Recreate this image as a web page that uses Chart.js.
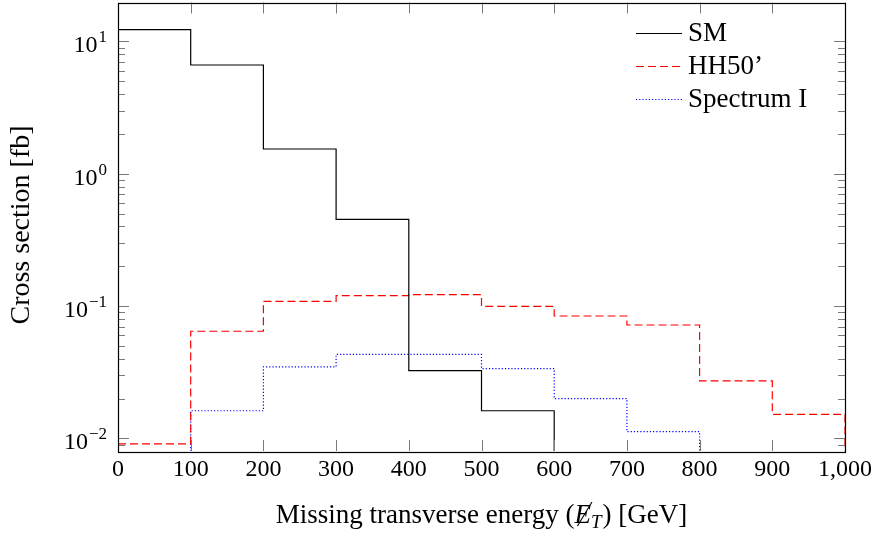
<!DOCTYPE html>
<html>
<head>
<meta charset="utf-8">
<script src="https://cdn.jsdelivr.net/npm/chart.js@4.4.1/dist/chart.umd.min.js"></script>
<style>
html,body{margin:0;padding:0;background:#fff;}
#wrap{width:878px;height:536px;}
</style>
</head>
<body>
<div id="wrap"><canvas id="c" width="878" height="536"></canvas></div>
<script>
// ---- data ----
const binEdges = [0, 100, 200, 300, 400, 500, 600, 700, 800, 900, 1000];
const seriesNames = ["SM", "HH50\u2019", "Spectrum I"];
const smValues   = [12.3, 6.64, 1.54, 0.453, 0.0325, 0.0162, null, null, null, null];
const hhValues   = [0.0091, 0.0646, 0.1087, 0.120, 0.122, 0.0997, 0.0842, 0.072, 0.0272, 0.0152];
const specValues = [null, 0.0162, 0.0348, 0.0432, 0.0432, 0.0337, 0.020, 0.01125, null, null];
const xTickValues = [0, 100, 200, 300, 400, 500, 600, 700, 800, 900, 1000];
const xTickLabels = ["0", "100", "200", "300", "400", "500", "600", "700", "800", "900", "1,000"];
const yTickValues = [0.01, 0.1, 1, 10];
const yTickExponents = ["\u22122", "\u22121", "0", "1"];
const yMin = 0.00804, yMax = 19.7;
const FLOOR = 1e-5;

function histPoints(vals) {
  const pts = [];
  let prev = null;
  vals.forEach((v, i) => {
    if (v == null) {
      if (prev != null) {
        pts.push({x: binEdges[i], y: prev});
        pts.push({x: binEdges[i], y: FLOOR});
      }
      prev = null;
      return;
    }
    if (prev == null && i > 0) pts.push({x: binEdges[i], y: FLOOR});
    pts.push({x: binEdges[i], y: v});
    prev = v;
  });
  if (prev != null) {
    const e = binEdges[vals.length];
    pts.push({x: e, y: prev});
    pts.push({x: e, y: FLOOR});
  }
  return pts;
}

const SERIF = '"Liberation Serif", "Times New Roman", serif';

const decor = {
  id: 'decor',
  afterDatasetsDraw(chart) {
    const ctx = chart.ctx;
    const ca = chart.chartArea;
    const xs = chart.scales.x, ys = chart.scales.y;
    ctx.save();
    // ticks
    ctx.strokeStyle = '#7a7a7a';
    ctx.lineWidth = 1;
    ctx.beginPath();
    xTickValues.forEach(v => {
      const px = Math.round(xs.getPixelForValue(v)) + 0.5;
      ctx.moveTo(px, ca.bottom); ctx.lineTo(px, ca.bottom - 11);
      ctx.moveTo(px, ca.top); ctx.lineTo(px, ca.top + 11);
    });
    ys.ticks.forEach(t => {
      const py = Math.round(ys.getPixelForValue(t.value)) + 0.5;
      ctx.moveTo(ca.left, py); ctx.lineTo(ca.left + 11, py);
      ctx.moveTo(ca.right, py); ctx.lineTo(ca.right - 11, py);
    });
    for (let e = -3; e <= 1; e++) {
      for (let m = 2; m <= 9; m++) {
        const v = m * Math.pow(10, e);
        if (v < yMin || v > yMax) continue;
        const py = Math.round(ys.getPixelForValue(v)) + 0.5;
        ctx.moveTo(ca.left, py); ctx.lineTo(ca.left + 7, py);
        ctx.moveTo(ca.right, py); ctx.lineTo(ca.right - 7, py);
      }
    }
    ctx.stroke();
    // frame
    ctx.strokeStyle = '#000';
    ctx.lineWidth = 1.2;
    ctx.strokeRect(Math.round(ca.left) + 0.5, Math.round(ca.top) + 0.5,
                   Math.round(ca.right - ca.left), Math.round(ca.bottom - ca.top));
    // x tick labels
    ctx.fillStyle = '#000';
    ctx.font = '24px ' + SERIF;
    ctx.textAlign = 'center';
    ctx.textBaseline = 'alphabetic';
    xTickValues.forEach((v, i) => {
      ctx.fillText(xTickLabels[i], xs.getPixelForValue(v), 476);
    });
    // y tick labels with superscripts
    ys.ticks.forEach(t => {
      const idx = yTickValues.indexOf(t.value);
      if (idx < 0) return;
      const py = ys.getPixelForValue(t.value);
      const right = 107;
      ctx.font = '17px ' + SERIF;
      ctx.textAlign = 'right';
      const exp = yTickExponents[idx];
      const ew = ctx.measureText(exp).width;
      ctx.fillText(exp, right, py + 1);
      ctx.font = '24px ' + SERIF;
      ctx.fillText('10', right - ew - 1, py + 11);
    });
    // x title
    ctx.textAlign = 'left';
    const p1 = 'Missing transverse energy (';
    const p3 = ') [GeV]';
    ctx.font = '27px ' + SERIF;
    const w1 = ctx.measureText(p1).width;
    const w3 = ctx.measureText(p3).width;
    ctx.font = 'italic 27px ' + SERIF;
    const wE = ctx.measureText('E').width;
    ctx.font = 'italic 19px ' + SERIF;
    const wT = ctx.measureText('T').width;
    const total = w1 + wE + wT + 1 + w3;
    let x0 = (ca.left + ca.right) / 2 - total / 2;
    const by = 523;
    ctx.font = '27px ' + SERIF;
    ctx.fillText(p1, x0, by);
    x0 += w1;
    ctx.font = 'italic 27px ' + SERIF;
    ctx.fillText('E', x0, by);
    ctx.beginPath();
    ctx.lineWidth = 1.1;
    ctx.strokeStyle = '#000';
    ctx.moveTo(x0 + 3, by + 3);
    ctx.lineTo(x0 + wE + 1, by - 21);
    ctx.stroke();
    x0 += wE;
    ctx.font = 'italic 19px ' + SERIF;
    ctx.fillText('T', x0, by + 5);
    x0 += wT + 1;
    ctx.font = '27px ' + SERIF;
    ctx.fillText(p3, x0, by);
    // y title
    ctx.save();
    ctx.translate(29, 225);
    ctx.rotate(-Math.PI / 2);
    ctx.textAlign = 'center';
    ctx.font = '28px ' + SERIF;
    ctx.fillText('Cross section [fb]', 0, 0);
    ctx.restore();
    // legend
    const rows = [33, 66, 99];
    chart.data.datasets.forEach((ds, i) => {
      const y = rows[i] + 0.5;
      ctx.beginPath();
      ctx.strokeStyle = ds.borderColor;
      ctx.lineWidth = 1.1;
      ctx.setLineDash(ds.borderDash || []);
      ctx.moveTo(636, y); ctx.lineTo(682, y);
      ctx.stroke();
      ctx.setLineDash([]);
      ctx.fillStyle = '#000';
      ctx.font = '27px ' + SERIF;
      ctx.textAlign = 'left';
      ctx.fillText(ds.label, 688, rows[i] + 8);
    });
    ctx.restore();
  }
};

new Chart(document.getElementById('c'), {
  type: 'line',
  data: {
    datasets: [
      {label: seriesNames[0], data: histPoints(smValues), borderColor: '#000000', borderWidth: 1.2, stepped: 'before'},
      {label: seriesNames[1], data: histPoints(hhValues), borderColor: '#ff0000', borderWidth: 1.2, borderDash: [8, 4], stepped: 'before'},
      {label: seriesNames[2], data: histPoints(specValues), borderColor: '#0000ff', borderWidth: 1.2, borderDash: [1.2, 2], stepped: 'before'}
    ]
  },
  options: {
    responsive: false,
    animation: false,
    devicePixelRatio: 1,
    layout: {padding: {top: 2.5, right: 33, left: 0, bottom: 0}},
    elements: {point: {radius: 0, hoverRadius: 0}, line: {tension: 0, fill: false}},
    plugins: {legend: {display: false}, tooltip: {enabled: false}},
    scales: {
      x: {
        type: 'linear', min: 0, max: 1000,
        grid: {display: false}, border: {display: false},
        ticks: {display: false},
        afterFit(s) { s.height = 85; }
      },
      y: {
        type: 'logarithmic', min: yMin, max: yMax,
        grid: {display: false}, border: {display: false},
        ticks: {display: false},
        afterBuildTicks(s) { s.ticks = yTickValues.map(v => ({value: v})); },
        afterFit(s) { s.width = 118; }
      }
    }
  },
  plugins: [decor]
});
</script>
</body>
</html>
